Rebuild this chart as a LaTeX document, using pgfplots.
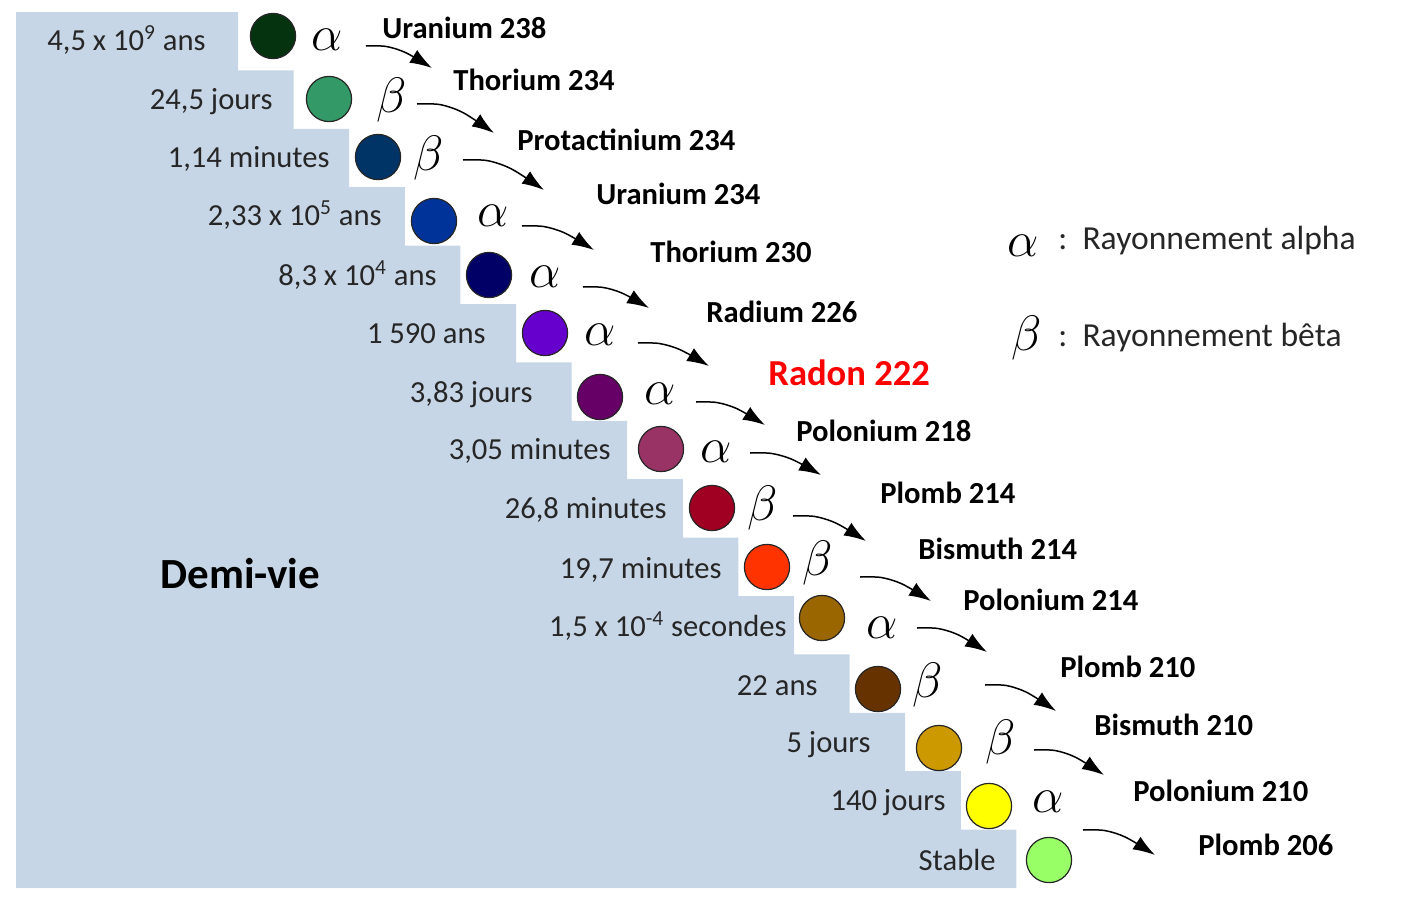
\documentclass[border=0pt]{standalone}
\usepackage{fontspec}
\setmainfont{Carlito}
\usepackage{pgfplots}
\pgfplotsset{compat=1.18}
\usetikzlibrary{arrows.meta}
\definecolor{stepblue}{HTML}{C6D6E7}
\definecolor{txt}{HTML}{262626}
\definecolor{c1}{HTML}{06330F}
\definecolor{c2}{HTML}{339966}
\definecolor{c3}{HTML}{003366}
\definecolor{c4}{HTML}{003399}
\definecolor{c5}{HTML}{000066}
\definecolor{c6}{HTML}{6600CC}
\definecolor{c7}{HTML}{660066}
\definecolor{c8}{HTML}{993366}
\definecolor{c9}{HTML}{A00022}
\definecolor{c10}{HTML}{FF3300}
\definecolor{c11}{HTML}{996600}
\definecolor{c12}{HTML}{663300}
\definecolor{c13}{HTML}{CC9900}
\definecolor{c14}{HTML}{FFFF00}
\definecolor{c15}{HTML}{99FF66}
\newcommand{\HL}[3]{\node[anchor=base east,inner sep=0pt,text=txt,font=\fontsize{15.3}{18}\selectfont] at (axis cs:#1,#2) {#3};}
\newcommand{\PR}[3]{\node[anchor=base west,inner sep=0pt,text=black,font=\fontsize{15.3}{18}\selectfont\bfseries] at (axis cs:#1,#2) {#3};}
\newcommand{\GR}[3]{\node[anchor=base,inner sep=0pt,text=black,font=\fontsize{26}{30}\selectfont] at (axis cs:#1,#2) {$#3$};}
\newcommand{\NUC}[3]{\addplot[only marks,mark=*,mark size=11.3pt,mark options={fill=#3,draw=black!85,line width=0.6pt}] coordinates {(#1,#2)};}
\begin{document}
\begin{tikzpicture}
\begin{axis}[width=707pt,height=452.5pt,scale only axis,xmin=0,xmax=1414,ymin=0,ymax=905,y dir=reverse,hide axis,clip=false,
  arr/.style={black,line width=0.75pt,smooth,-{Latex[length=11pt,width=7.5pt]}}]
\addplot[draw=none,forget plot] coordinates {(0,0) (1414,905)};
% staircase
\addplot[fill=stepblue,draw=none] coordinates {(16,12) (238,12) (238,70.4) (293.6,70.4) (293.6,128.8) (349.2,128.8) (349.2,187.2) (404.8,187.2) (404.8,245.6) (460.4,245.6) (460.4,304) (516,304) (516,362.4) (571.6,362.4) (571.6,420.8) (627.2,420.8) (627.2,479.2) (682.8,479.2) (682.8,537.6) (738.4,537.6) (738.4,596) (794,596) (794,654.4) (849.6,654.4) (849.6,712.8) (905.2,712.8) (905.2,771.2) (960.8,771.2) (960.8,829.6) (1016.4,829.6) (1016.4,888) (16,888) (16,12)};
% circles
\NUC{273}{36}{c1}
\NUC{329}{99}{c2}
\NUC{378}{157}{c3}
\NUC{434}{221}{c4}
\NUC{489}{275}{c5}
\NUC{545}{333}{c6}
\NUC{600}{397}{c7}
\NUC{661}{449}{c8}
\NUC{712}{508}{c9}
\NUC{767}{567}{c10}
\NUC{822}{618}{c11}
\NUC{878}{689}{c12}
\NUC{939}{748}{c13}
\NUC{989}{806}{c14}
\NUC{1049}{860}{c15}
% arrows
\addplot[arr] coordinates {(366,46) (385.8,46.4) (405.6,52.6) (432,68)};
\addplot[arr] coordinates {(417,104) (440.1,104.6) (463.2,112.7) (494,133)};
\addplot[arr] coordinates {(463,160) (487.3,160.6) (511.6,169) (544,190)};
\addplot[arr] coordinates {(522,226) (543.6,226.5) (565.2,233.2) (594,250)};
\addplot[arr] coordinates {(583,287) (602.8,287.4) (622.6,293.3) (649,308)};
\addplot[arr] coordinates {(638,343) (659.3,343.5) (680.6,349.9) (709,366)};
\addplot[arr] coordinates {(696,402) (716.7,402.5) (737.4,408.9) (765,425)};
\addplot[arr] coordinates {(750,453) (771.3,453.4) (792.6,459.6) (821,475)};
\addplot[arr] coordinates {(793,516) (814.9,516.5) (836.8,523.5) (866,541)};
\addplot[arr] coordinates {(860,577) (881.3,577.5) (902.6,584.2) (931,601)};
\addplot[arr] coordinates {(917,628) (938,628.5) (959,635.2) (987,652)};
\addplot[arr] coordinates {(985,685) (1006.3,685.5) (1027.6,692.8) (1056,711)};
\addplot[arr] coordinates {(1034,750) (1055,750.5) (1076,757.5) (1104,775)};
\addplot[arr] coordinates {(1083,830) (1104.6,830.5) (1126.2,837.5) (1155,855)};
% half-lives
\HL{206}{50}{4,5 x 10\textsuperscript{9} ans}
\HL{273}{109}{24,5 jours}
\HL{330}{167}{1,14 minutes}
\HL{382}{225}{2,33 x 10\textsuperscript{5} ans}
\HL{437}{285}{8,3 x 10\textsuperscript{4} ans}
\HL{486}{343}{1 590 ans}
\HL{533}{402}{3,83 jours}
\HL{611}{459}{3,05 minutes}
\HL{667}{518}{26,8 minutes}
\HL{722}{578}{19,7 minutes}
\HL{787}{636}{1,5 x 10\textsuperscript{-4} secondes}
\HL{818}{695}{22 ans}
\HL{871}{752}{5 jours}
\HL{946}{810}{140 jours}
\HL{996}{870}{Stable}
% products
\PR{382}{38}{Uranium 238}
\PR{453}{90}{Thorium 234}
\PR{517}{150}{Protactinium 234}
\PR{596}{204}{Uranium 234}
\PR{650}{262}{Thorium 230}
\PR{706}{322}{Radium 226}
\node[anchor=base west,inner sep=0pt,text=red,font=\fontsize{18.3}{21}\selectfont\bfseries] at (axis cs:768,385) {Radon 222};
\PR{796}{441}{Polonium 218}
\PR{880}{503}{Plomb 214}
\PR{918}{559}{Bismuth 214}
\PR{963}{610}{Polonium 214}
\PR{1060}{677}{Plomb 210}
\PR{1094}{735}{Bismuth 210}
\PR{1133}{801}{Polonium 210}
\PR{1198}{855}{Plomb 206}
% greek
\GR{327}{50}{\alpha}
\GR{392}{112}{\beta}
\GR{429}{170}{\beta}
\GR{493}{226}{\alpha}
\GR{545}{287}{\alpha}
\GR{600}{345}{\alpha}
\GR{660}{404}{\alpha}
\GR{716}{462}{\alpha}
\GR{763}{520}{\beta}
\GR{818}{575}{\beta}
\GR{882}{638}{\alpha}
\GR{928}{697}{\beta}
\GR{1001}{754}{\beta}
\GR{1048}{812}{\alpha}
% legend
\node[anchor=base,inner sep=0pt,font=\fontsize{28}{32}\selectfont] at (axis cs:1023,256) {$\alpha$};
\node[anchor=base,inner sep=0pt,font=\fontsize{28}{32}\selectfont] at (axis cs:1027,350) {$\beta$};
\node[anchor=base west,inner sep=0pt,text=txt,font=\fontsize{16.8}{20}\selectfont] at (axis cs:1058,249) {:\hspace{0.45em}Rayonnement alpha};
\node[anchor=base west,inner sep=0pt,text=txt,font=\fontsize{16.8}{20}\selectfont] at (axis cs:1058,346) {:\hspace{0.45em}Rayonnement bêta};
% title
\node[anchor=base west,inner sep=0pt,text=black,font=\fontsize{21.5}{25}\selectfont\bfseries] at (axis cs:160,588) {Demi-vie};
\end{axis}
\end{tikzpicture}
\end{document}
